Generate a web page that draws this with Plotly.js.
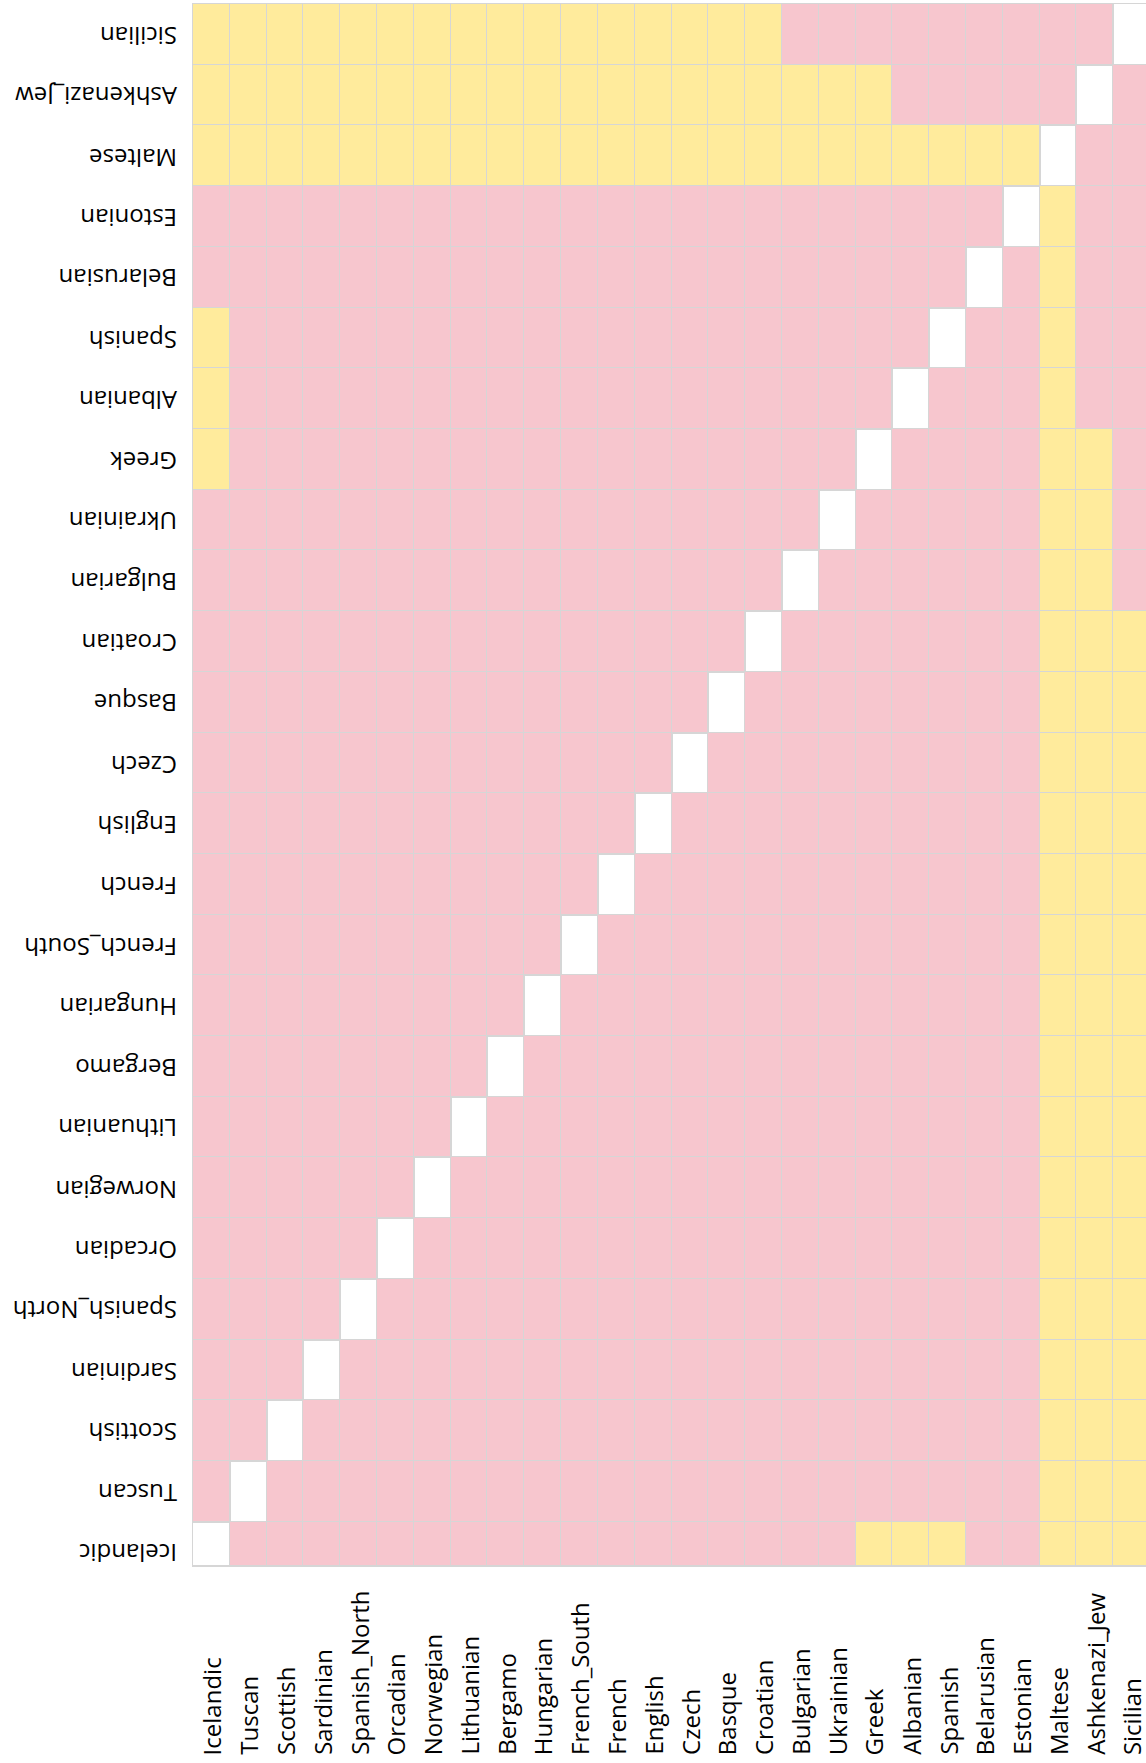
<!DOCTYPE html>
<html>
<head>
<meta charset="utf-8">
<script src="https://cdn.plot.ly/plotly-3.0.1.min.js"></script>
<style>
html,body{margin:0;padding:0;overflow:hidden;background:#fff;}
#chart{width:1150px;height:1763px;}
</style>
</head>
<body>
<div id="chart"></div>
<script>
// Population categories (x: left to right, y: bottom to top)
const populations = ["Icelandic","Tuscan","Scottish","Sardinian","Spanish_North","Orcadian","Norwegian","Lithuanian","Bergamo","Hungarian","French_South","French","English","Czech","Basque","Croatian","Bulgarian","Ukrainian","Greek","Albanian","Spanish","Belarusian","Estonian","Maltese","Ashkenazi_Jew","Sicilian"];

// Pairwise result matrix: 1 = yellow cell, 0 = pink cell, null = diagonal (blank)
// rows follow populations order (row 0 = Icelandic at bottom)
const rowIcelandic     = [null,0,0,0,0,0,0,0,0,0, 0,0,0,0,0,0,0,0,1,1, 1,0,0,1,1,1];
const rowTuscan        = [0,null,0,0,0,0,0,0,0,0, 0,0,0,0,0,0,0,0,0,0, 0,0,0,1,1,1];
const rowScottish      = [0,0,null,0,0,0,0,0,0,0, 0,0,0,0,0,0,0,0,0,0, 0,0,0,1,1,1];
const rowSardinian     = [0,0,0,null,0,0,0,0,0,0, 0,0,0,0,0,0,0,0,0,0, 0,0,0,1,1,1];
const rowSpanishNorth  = [0,0,0,0,null,0,0,0,0,0, 0,0,0,0,0,0,0,0,0,0, 0,0,0,1,1,1];
const rowOrcadian      = [0,0,0,0,0,null,0,0,0,0, 0,0,0,0,0,0,0,0,0,0, 0,0,0,1,1,1];
const rowNorwegian     = [0,0,0,0,0,0,null,0,0,0, 0,0,0,0,0,0,0,0,0,0, 0,0,0,1,1,1];
const rowLithuanian    = [0,0,0,0,0,0,0,null,0,0, 0,0,0,0,0,0,0,0,0,0, 0,0,0,1,1,1];
const rowBergamo       = [0,0,0,0,0,0,0,0,null,0, 0,0,0,0,0,0,0,0,0,0, 0,0,0,1,1,1];
const rowHungarian     = [0,0,0,0,0,0,0,0,0,null, 0,0,0,0,0,0,0,0,0,0, 0,0,0,1,1,1];
const rowFrenchSouth   = [0,0,0,0,0,0,0,0,0,0, null,0,0,0,0,0,0,0,0,0, 0,0,0,1,1,1];
const rowFrench        = [0,0,0,0,0,0,0,0,0,0, 0,null,0,0,0,0,0,0,0,0, 0,0,0,1,1,1];
const rowEnglish       = [0,0,0,0,0,0,0,0,0,0, 0,0,null,0,0,0,0,0,0,0, 0,0,0,1,1,1];
const rowCzech         = [0,0,0,0,0,0,0,0,0,0, 0,0,0,null,0,0,0,0,0,0, 0,0,0,1,1,1];
const rowBasque        = [0,0,0,0,0,0,0,0,0,0, 0,0,0,0,null,0,0,0,0,0, 0,0,0,1,1,1];
const rowCroatian      = [0,0,0,0,0,0,0,0,0,0, 0,0,0,0,0,null,0,0,0,0, 0,0,0,1,1,1];
const rowBulgarian     = [0,0,0,0,0,0,0,0,0,0, 0,0,0,0,0,0,null,0,0,0, 0,0,0,1,1,0];
const rowUkrainian     = [0,0,0,0,0,0,0,0,0,0, 0,0,0,0,0,0,0,null,0,0, 0,0,0,1,1,0];
const rowGreek         = [1,0,0,0,0,0,0,0,0,0, 0,0,0,0,0,0,0,0,null,0, 0,0,0,1,1,0];
const rowAlbanian      = [1,0,0,0,0,0,0,0,0,0, 0,0,0,0,0,0,0,0,0,null, 0,0,0,1,0,0];
const rowSpanish       = [1,0,0,0,0,0,0,0,0,0, 0,0,0,0,0,0,0,0,0,0, null,0,0,1,0,0];
const rowBelarusian    = [0,0,0,0,0,0,0,0,0,0, 0,0,0,0,0,0,0,0,0,0, 0,null,0,1,0,0];
const rowEstonian      = [0,0,0,0,0,0,0,0,0,0, 0,0,0,0,0,0,0,0,0,0, 0,0,null,1,0,0];
const rowMaltese       = [1,1,1,1,1,1,1,1,1,1, 1,1,1,1,1,1,1,1,1,1, 1,1,1,null,0,0];
const rowAshkenaziJew  = [1,1,1,1,1,1,1,1,1,1, 1,1,1,1,1,1,1,1,1,0, 0,0,0,0,null,0];
const rowSicilian      = [1,1,1,1,1,1,1,1,1,1, 1,1,1,1,1,1,0,0,0,0, 0,0,0,0,0,null];

const zMatrix = [rowIcelandic,rowTuscan,rowScottish,rowSardinian,rowSpanishNorth,rowOrcadian,rowNorwegian,rowLithuanian,rowBergamo,rowHungarian,rowFrenchSouth,rowFrench,rowEnglish,rowCzech,rowBasque,rowCroatian,rowBulgarian,rowUkrainian,rowGreek,rowAlbanian,rowSpanish,rowBelarusian,rowEstonian,rowMaltese,rowAshkenaziJew,rowSicilian];

const PINK = '#F7C6CE';
const YELLOW = '#FFEB9C';
const GRID = '#D6D6D6';
const FONT = {family: '"Open Sans", sans-serif', size: 24, color: '#000000'};

const trace = {
  type: 'heatmap',
  x: populations,
  y: populations,
  z: zMatrix,
  zmin: 0, zmax: 1,
  colorscale: [[0, PINK],[0.5, PINK],[0.5, YELLOW],[1, YELLOW]],
  showscale: false,
  xgap: 1, ygap: 1,
  hoverongaps: false
};

const annotations = [];
populations.forEach(p => {
  annotations.push({
    xref: 'x', yref: 'paper', x: p, y: 0,
    text: p, textangle: -90, showarrow: false,
    xanchor: 'center', yanchor: 'bottom', yshift: -192,
    font: FONT
  });
  annotations.push({
    xref: 'paper', yref: 'y', x: 0, y: p,
    text: p, textangle: 180, showarrow: false,
    xanchor: 'right', yanchor: 'middle', xshift: -14, yshift: -2,
    font: FONT
  });
});

const layout = {
  width: 1150, height: 1763,
  margin: {l: 193, r: 0, t: 3.6, b: 198, pad: 0},
  paper_bgcolor: '#ffffff',
  plot_bgcolor: '#ffffff',
  font: FONT,
  xaxis: {
    type: 'category', showticklabels: false, ticks: '',
    range: [-0.5, 25.5], autorange: false,
    tickson: 'boundaries', showgrid: true, gridcolor: GRID, gridwidth: 2,
    showline: true, linecolor: GRID, linewidth: 1.5, mirror: true,
    zeroline: false, fixedrange: true
  },
  yaxis: {
    type: 'category', showticklabels: false, ticks: '',
    range: [-0.213, 25.5], autorange: false,
    tickson: 'boundaries', showgrid: true, gridcolor: GRID, gridwidth: 2,
    showline: true, linecolor: GRID, linewidth: 1.5, mirror: true,
    zeroline: false, fixedrange: true
  },
  annotations: annotations,
  showlegend: false
};

Plotly.newPlot('chart', [trace], layout, {displayModeBar: false, staticPlot: true});
</script>
</body>
</html>
